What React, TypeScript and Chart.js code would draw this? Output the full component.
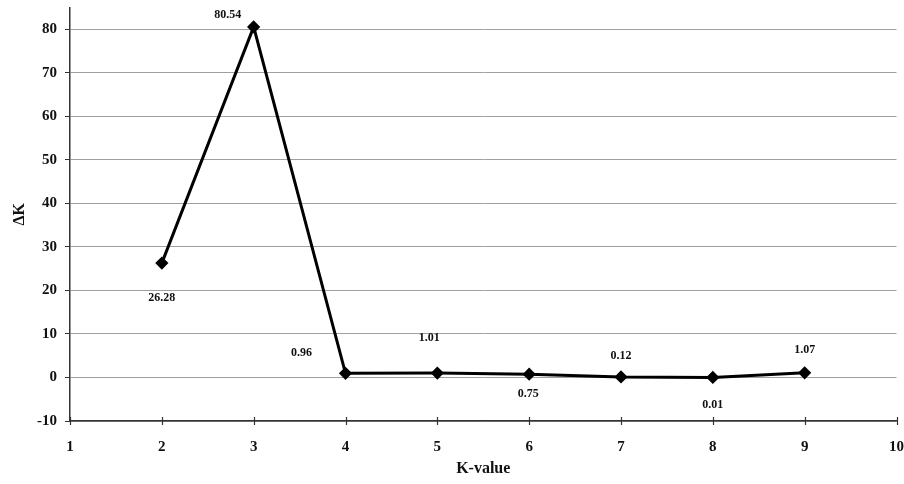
import React, { useEffect, useRef } from "react";
import { Chart, registerables } from "chart.js";

Chart.register(...registerables);

const kValues = [2, 3, 4, 5, 6, 7, 8, 9];
const deltaK = [26.28, 80.54, 0.96, 1.01, 0.75, 0.12, 0.01, 1.07];
const pointLabels = ["26.28", "80.54", "0.96", "1.01", "0.75", "0.12", "0.01", "1.07"];
const xTicks = [1, 2, 3, 4, 5, 6, 7, 8, 9, 10];
const yTicks = [-10, 0, 10, 20, 30, 40, 50, 60, 70, 80];
// label offsets (px) relative to each point: styling only
const labelDx = [0, -26, -44, -8, -1, 0, 0, 0];
const labelDy = [35, -12, -20, -35, 20, -21, 27, -23];

const FONT = "'Liberation Serif', 'Times New Roman', serif";

const labelPlugin = {
  id: "pointLabels",
  afterDatasetsDraw(chart: any) {
    const ctx = chart.ctx;
    const meta = chart.getDatasetMeta(0);
    ctx.save();
    ctx.font = `bold 12px ${FONT}`;
    ctx.fillStyle = "#111";
    ctx.textAlign = "center";
    ctx.textBaseline = "middle";
    meta.data.forEach((pt: any, i: number) => {
      ctx.fillText(pointLabels[i], pt.x + labelDx[i], pt.y + labelDy[i]);
    });
    // x-axis tick marks crossing the axis line
    const xs = chart.scales.x;
    const y0 = chart.chartArea.bottom;
    ctx.strokeStyle = "#333";
    ctx.lineWidth = 1.2;
    xTicks.forEach((v) => {
      const px = Math.round(xs.getPixelForValue(v)) + 0.5;
      ctx.beginPath();
      ctx.moveTo(px, y0 - 4);
      ctx.lineTo(px, y0 + 4);
      ctx.stroke();
    });
    ctx.restore();
  },
};

export default function App() {
  const ref = useRef<HTMLCanvasElement>(null);
  useEffect(() => {
    document.body.style.margin = "0";
    const chart = new Chart(ref.current!, {
      type: "line",
      data: {
        datasets: [
          {
            data: kValues.map((k, i) => ({ x: k, y: deltaK[i] })),
            borderColor: "#000",
            backgroundColor: "#000",
            borderWidth: 3,
            pointStyle: "rectRot",
            pointRadius: 4.5,
            pointBackgroundColor: "#000",
            pointBorderColor: "#000",
            tension: 0,
          },
        ],
      },
      options: {
        responsive: false,
        animation: false,
        layout: { padding: { top: 7, right: 6, left: 0, bottom: 0 } },
        plugins: { legend: { display: false }, tooltip: { enabled: false } },
        scales: {
          x: {
            type: "linear",
            min: 1,
            max: 10,
            afterBuildTicks: (axis: any) => {
              axis.ticks = xTicks.map((v) => ({ value: v }));
            },
            afterFit: (s: any) => {
              s.height = 63;
              s.paddingRight = 0;
              s.paddingLeft = 0;
            },
            grid: { display: false, drawOnChartArea: false },
            border: { display: true, color: "#333", width: 1.5 },
            ticks: {
              color: "#111",
              padding: 9,
              font: { family: FONT, size: 15, weight: "bold" },
              maxRotation: 0,
            },
            title: {
              display: true,
              text: "K-value",
              color: "#111",
              font: { family: FONT, size: 16, weight: "bold" },
              padding: { top: 4, bottom: 6 },
            },
          },
          y: {
            type: "linear",
            min: -10,
            max: 85,
            afterBuildTicks: (axis: any) => {
              axis.ticks = yTicks.map((v) => ({ value: v }));
            },
            afterFit: (s: any) => {
              s.width = 70;
              s.paddingTop = 0;
              s.paddingBottom = 0;
            },
            grid: {
              color: "#a0a0a0",
              lineWidth: 1,
              tickColor: "#333",
              tickLength: 5,
            },
            border: { display: true, color: "#333", width: 1.5 },
            ticks: {
              color: "#111",
              padding: 8,
              font: { family: FONT, size: 15, weight: "bold" },
            },
            title: {
              display: true,
              text: "ΔK",
              color: "#111",
              font: { family: FONT, size: 16, weight: "bold" },
              padding: { top: 10, bottom: 0 },
            },
          },
        },
      },
      plugins: [labelPlugin],
    } as any);
    return () => chart.destroy();
  }, []);
  return (
    <div style={{ width: 904, height: 484, background: "#fff" }}>
      <canvas ref={ref} width={904} height={484} />
    </div>
  );
}
